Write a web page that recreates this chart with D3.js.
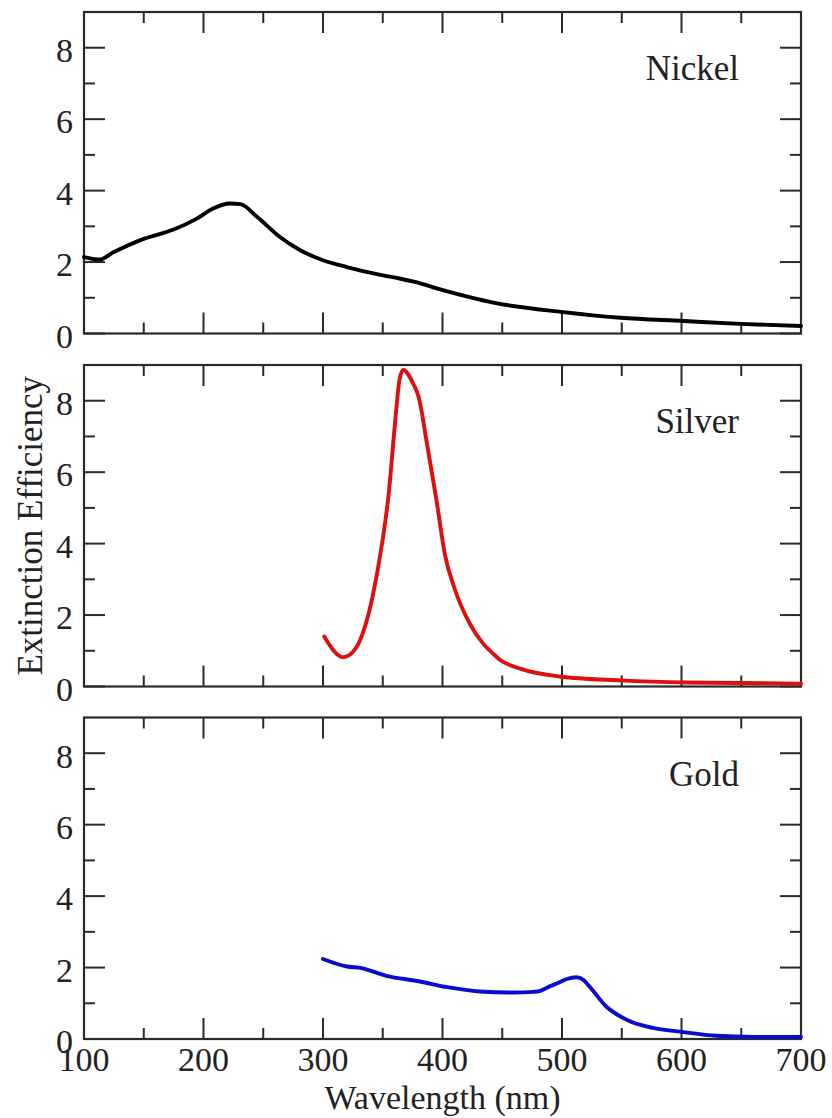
<!DOCTYPE html>
<html>
<head>
<meta charset="utf-8">
<script src="https://cdn.jsdelivr.net/npm/d3@7"></script>
<style>
  html, body { margin: 0; padding: 0; background: #fff; }
  svg { display: block; }
  text { font-family: "Liberation Serif", "DejaVu Serif", serif; fill: #222; }
</style>
</head>
<body>
<svg id="chart" width="832" height="1118"></svg>
<script>
// Extinction efficiency spectra of metal nanoparticles
const nickelWl  = [100, 113, 125, 150, 175, 194, 208, 222, 231, 245, 264, 281, 300, 320, 348, 364, 376, 401, 448, 501, 549, 602, 649, 700];
const nickelExt = [2.14, 2.07, 2.28, 2.65, 2.91, 3.21, 3.50, 3.64, 3.62, 3.26, 2.70, 2.33, 2.05, 1.86, 1.64, 1.54, 1.45, 1.21, 0.83, 0.60, 0.44, 0.35, 0.27, 0.21];

const silverWl  = [301, 317, 328, 335, 342, 349, 355, 360, 364, 367, 376, 380, 387, 395, 402, 410, 423, 434, 443, 448, 465, 498, 549, 604, 700];
const silverExt = [1.40, 0.82, 1.10, 1.66, 2.60, 3.91, 5.40, 7.27, 8.58, 8.86, 8.44, 8.11, 6.80, 5.21, 3.70, 2.75, 1.75, 1.20, 0.90, 0.75, 0.50, 0.28, 0.17, 0.11, 0.08];

const goldWl  = [300, 320, 331, 353, 381, 404, 431, 460, 476, 482, 487, 496, 504, 512, 518, 523, 537, 554, 576, 600, 629, 660, 700];
const goldExt = [2.24, 2.03, 1.99, 1.77, 1.61, 1.45, 1.33, 1.30, 1.32, 1.35, 1.43, 1.56, 1.68, 1.73, 1.65, 1.47, 0.91, 0.54, 0.31, 0.20, 0.09, 0.06, 0.06];

const panelNames  = ["Nickel", "Silver", "Gold"];
const panelColors = ["#000000", "#dd0f0f", "#0a0ad0"];

const xMajorTicks = [100, 200, 300, 400, 500, 600, 700];
const xMinorTicks = [150, 250, 350, 450, 550, 650];
const yMajorTicks = [0, 2, 4, 6, 8];
const yMinorTicks = [1, 3, 5, 7];

const xTitle = "Wavelength (nm)";
const yTitle = "Extinction Efficiency";

const series = [
  nickelWl.map((w, i) => ({ w, v: nickelExt[i] })),
  silverWl.map((w, i) => ({ w, v: silverExt[i] })),
  goldWl.map((w, i) => ({ w, v: goldExt[i] }))
];

const svg = d3.select("#chart");
const left = 84, plotW = 717;
const panelTops = [12, 365, 717.5];
const panelH = 321.5;
const axisColor = "#2a2a2a";
const fontSize = 34;

const x = d3.scaleLinear().domain([100, 700]).range([0, plotW]);
const y = d3.scaleLinear().domain([0, 9]).range([panelH, 0]);

const majorLen = 21, minorLen = 11;

panelTops.forEach((top, p) => {
  const g = svg.append("g").attr("transform", `translate(${left},${top})`);

  // inward ticks on all four sides
  const ticks = g.append("g").attr("stroke", axisColor).attr("stroke-width", 2);
  [[xMajorTicks, majorLen], [xMinorTicks, minorLen]].forEach(([vals, len]) => {
    vals.forEach(v => {
      ticks.append("line").attr("x1", x(v)).attr("x2", x(v)).attr("y1", panelH).attr("y2", panelH - len);
      ticks.append("line").attr("x1", x(v)).attr("x2", x(v)).attr("y1", 0).attr("y2", len);
    });
  });
  [[yMajorTicks, majorLen], [yMinorTicks, minorLen]].forEach(([vals, len]) => {
    vals.forEach(v => {
      ticks.append("line").attr("x1", 0).attr("x2", len).attr("y1", y(v)).attr("y2", y(v));
      ticks.append("line").attr("x1", plotW).attr("x2", plotW - len).attr("y1", y(v)).attr("y2", y(v));
    });
  });

  // frame
  g.append("rect")
    .attr("x", 0).attr("y", 0).attr("width", plotW).attr("height", panelH)
    .attr("fill", "none").attr("stroke", axisColor).attr("stroke-width", 2.2);

  // y tick labels
  g.selectAll("text.ylab").data(yMajorTicks).join("text")
    .attr("class", "ylab")
    .attr("x", -11).attr("y", d => y(d)).attr("dy", "0.42em")
    .attr("text-anchor", "end")
    .attr("font-size", fontSize)
    .text(d => d);

  // spectrum
  const line = d3.line()
    .x(d => x(d.w)).y(d => y(d.v))
    .curve(d3.curveMonotoneX);
  g.append("path")
    .datum(series[p])
    .attr("d", line)
    .attr("fill", "none")
    .attr("stroke", panelColors[p])
    .attr("stroke-width", 3.9)
    .attr("stroke-linejoin", "round")
    .attr("stroke-linecap", "round");

  // panel name
  g.append("text")
    .attr("x", 655).attr("y", 68)
    .attr("text-anchor", "end")
    .attr("font-size", 35)
    .text(panelNames[p]);

  // x tick labels on the bottom panel only
  if (p === panelTops.length - 1) {
    g.selectAll("text.xlab").data(xMajorTicks).join("text")
      .attr("class", "xlab")
      .attr("x", d => x(d)).attr("y", panelH + 32)
      .attr("text-anchor", "middle")
      .attr("font-size", fontSize)
      .text(d => d);
  }
});

// axis titles
svg.append("text")
  .attr("x", left + plotW / 2).attr("y", 1109)
  .attr("text-anchor", "middle")
  .attr("font-size", 34)
  .text(xTitle);

svg.append("text")
  .attr("transform", `translate(42,${panelTops[1] + panelH / 2}) rotate(-90)`)
  .attr("text-anchor", "middle")
  .attr("font-size", 35)
  .text(yTitle);
</script>
</body>
</html>
